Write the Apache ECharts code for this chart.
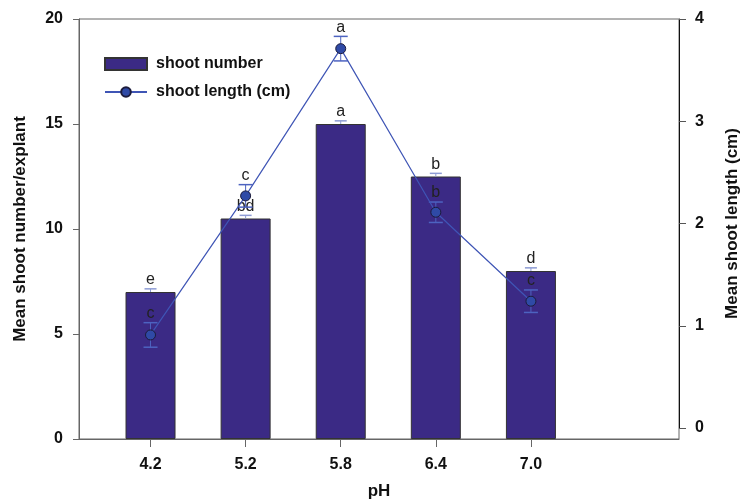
<!DOCTYPE html>
<html>
<head>
<meta charset="utf-8">
<script src="https://cdn.jsdelivr.net/npm/echarts@6/dist/echarts.min.js"></script>
<style>
  html, body { margin: 0; padding: 0; background: #fff; }
  #chart { width: 742px; height: 502px; }
</style>
</head>
<body>
<div id="chart"></div>
<script>
// pH treatments on the x axis
const phLabels = ['4.2', '5.2', '5.8', '6.4', '7.0'];
// Mean shoot number per explant (left axis) with SE
const shootNumber = [7.0, 10.5, 15.0, 12.5, 8.0];
const shootNumberErr = [0.15, 0.15, 0.15, 0.15, 0.15];
const numberLetters = ['e', 'bd', 'a', 'b', 'd'];
// Mean shoot length in cm (right axis) with SE
const shootLength = [0.91, 2.27, 3.71, 2.11, 1.24];
const shootLengthErr = [0.12, 0.11, 0.12, 0.10, 0.11];
const lengthLetters = ['c', 'c', 'a', 'b', 'c'];
// Axis ticks
const leftTicks = [0, 5, 10, 15, 20];
const rightTicks = [0, 1, 2, 3, 4];

const FONT = 'Liberation Sans, Arial, sans-serif';
const BAR_COLOR = '#3b2a85';
const LINE_COLOR = '#3f55b5';
const idx = phLabels.map((_, i) => i);

const xMin = -0.752, xMax = 5.557;

function errorBarRenderer(capColor, capHalf, upOnly, letters) {
  return function (params, api) {
    const x = api.value(0), y = api.value(1), e = api.value(2);
    const top = api.coord([x, y + e]);
    const bot = api.coord([x, upOnly ? y : y - e]);
    const children = [
      { type: 'line', shape: { x1: top[0], y1: top[1], x2: bot[0], y2: bot[1] },
        style: { stroke: capColor, lineWidth: 1 } },
      { type: 'line', shape: { x1: top[0] - capHalf, y1: top[1], x2: top[0] + capHalf, y2: top[1] },
        style: { stroke: capColor, lineWidth: 1.5 } },
      { type: 'text', x: top[0], y: top[1] - 1,
        style: { text: letters[params.dataIndex], fill: '#222', font: '16px ' + FONT,
                 textAlign: 'center', textVerticalAlign: 'bottom' } }
    ];
    if (!upOnly) {
      children.push({ type: 'line', shape: { x1: bot[0] - capHalf, y1: bot[1], x2: bot[0] + capHalf, y2: bot[1] },
        style: { stroke: capColor, lineWidth: 1.5 } });
    }
    return { type: 'group', children };
  };
}

const axisLabelStyle = { color: '#111', fontSize: 16, fontWeight: 'bold', fontFamily: FONT };
const nameStyle = { color: '#111', fontSize: 17, fontWeight: 'bold', fontFamily: FONT };

const option = {
  animation: false,
  backgroundColor: '#fff',
  grid: [
    { left: 79, right: 63, top: 19, bottom: 63, show: true, borderColor: '#666', borderWidth: 1,
      containLabel: false, outerBoundsMode: 'none' },
    { left: 79, right: 63, top: 19, bottom: 74, containLabel: false, outerBoundsMode: 'none' }
  ],
  legend: {
    orient: 'vertical', left: 99, top: 51, itemWidth: 42, itemHeight: 12, itemGap: 12,
    textStyle: { color: '#111', fontSize: 16, fontWeight: 'bold', fontFamily: FONT, padding: [0, 0, 0, 4] },
    data: [
      { name: 'shoot number', icon: 'rect' },
      { name: 'shoot length (cm)' }
    ]
  },
  xAxis: [
    {
      type: 'value', gridIndex: 0, min: xMin, max: xMax,
      name: 'pH', nameLocation: 'middle', nameGap: 44, nameTextStyle: nameStyle,
      splitLine: { show: false },
      axisLine: { show: true, onZero: false, lineStyle: { color: '#666' } },
      axisTick: { show: true, customValues: idx, length: 8, lineStyle: { color: '#666' } },
      axisLabel: Object.assign({ customValues: idx, margin: 18,
        formatter: v => phLabels[Math.round(v)] }, axisLabelStyle)
    },
    {
      type: 'value', gridIndex: 1, min: xMin, max: xMax, show: false, splitLine: { show: false },
      axisLine: { onZero: false }
    }
  ],
  yAxis: [
    {
      type: 'value', gridIndex: 0, min: 0, max: 20, interval: 5,
      name: 'Mean shoot number/explant', nameLocation: 'middle', nameGap: 50, nameTextStyle: nameStyle,
      splitLine: { show: false },
      axisLine: { show: true, onZero: false, lineStyle: { color: '#666' } },
      axisTick: { show: true, inside: false, length: 6, lineStyle: { color: '#666' } },
      axisLabel: Object.assign({ margin: 16, customValues: leftTicks }, axisLabelStyle)
    },
    {
      type: 'value', gridIndex: 1, position: 'right', min: 0, max: 4, interval: 1,
      name: 'Mean shoot length (cm)', nameLocation: 'middle', nameGap: 45, nameRotate: 90,
      nameTextStyle: nameStyle,
      splitLine: { show: false },
      axisLine: { show: true, onZero: false, lineStyle: { color: '#111' } },
      axisTick: { show: true, inside: false, length: 7, lineStyle: { color: '#555' } },
      axisLabel: Object.assign({ margin: 16, customValues: rightTicks }, axisLabelStyle)
    }
  ],
  series: [
    {
      name: 'shoot number', type: 'bar', xAxisIndex: 0, yAxisIndex: 0, barWidth: 50,
      itemStyle: { color: BAR_COLOR, borderColor: '#333', borderWidth: 1 },
      data: idx.map(i => [i, shootNumber[i]]), z: 2
    },
    {
      type: 'custom', xAxisIndex: 0, yAxisIndex: 0, z: 3,
      renderItem: errorBarRenderer('#8d9bd4', 6, true, numberLetters),
      data: idx.map(i => [i, shootNumber[i], shootNumberErr[i]])
    },
    {
      type: 'custom', xAxisIndex: 1, yAxisIndex: 1, z: 4,
      renderItem: errorBarRenderer('#4d63c0', 7, false, lengthLetters),
      data: idx.map(i => [i, shootLength[i], shootLengthErr[i]])
    },
    {
      name: 'shoot length (cm)', type: 'line', xAxisIndex: 1, yAxisIndex: 1, z: 5,
      symbol: 'circle', symbolSize: 10,
      lineStyle: { color: LINE_COLOR, width: 1.2 },
      itemStyle: { color: '#2f4aa6', borderColor: '#1c1c3c', borderWidth: 1 },
      data: idx.map(i => [i, shootLength[i]])
    }
  ]
};

echarts.init(document.getElementById('chart'), null, { renderer: 'canvas' }).setOption(option);
</script>
</body>
</html>
